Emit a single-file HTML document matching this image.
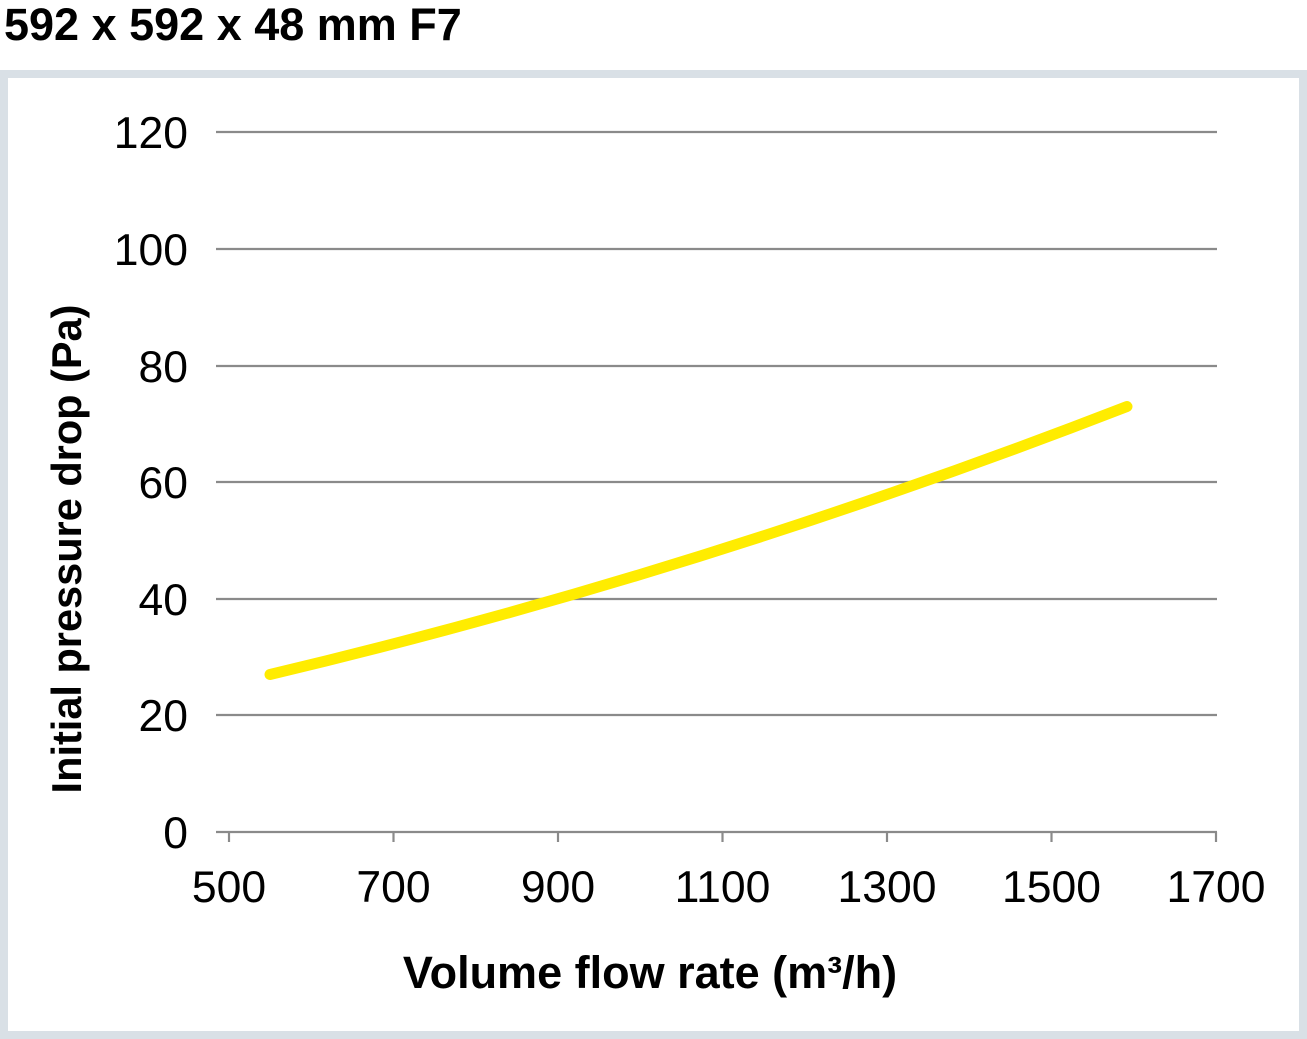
<!DOCTYPE html>
<html><head><style>
body{margin:0;background:#fff;width:1307px;height:1039px;overflow:hidden}
svg{display:block;font-family:"Liberation Sans",Arial,sans-serif}
</style></head><body>
<svg width="1307" height="1039" viewBox="0 0 1307 1039">
<text x="4" y="40" font-size="45" font-weight="bold" fill="#000">592 x 592 x 48 mm F7</text>
<rect x="4" y="74" width="1299" height="961" fill="#fff" stroke="#d9e0e6" stroke-width="8"/>
<g stroke="#8a8a8a" stroke-width="2.2">
<line x1="216" y1="132" x2="1217" y2="132"/>
<line x1="216" y1="249" x2="1217" y2="249"/>
<line x1="216" y1="366" x2="1217" y2="366"/>
<line x1="216" y1="482" x2="1217" y2="482"/>
<line x1="216" y1="599" x2="1217" y2="599"/>
<line x1="216" y1="715" x2="1217" y2="715"/>
<line x1="216" y1="832" x2="1217" y2="832"/>
<line x1="229" y1="832" x2="229" y2="842"/>
<line x1="393.5" y1="832" x2="393.5" y2="842"/>
<line x1="558" y1="832" x2="558" y2="842"/>
<line x1="722.5" y1="832" x2="722.5" y2="842"/>
<line x1="887" y1="832" x2="887" y2="842"/>
<line x1="1051.5" y1="832" x2="1051.5" y2="842"/>
<line x1="1216" y1="832" x2="1216" y2="842"/>
</g>
<g font-size="44.5" fill="#000" text-anchor="end">
<text x="188" y="148">120</text>
<text x="188" y="265">100</text>
<text x="188" y="382">80</text>
<text x="188" y="498">60</text>
<text x="188" y="615">40</text>
<text x="188" y="731">20</text>
<text x="188" y="848">0</text>
</g>
<g font-size="44.5" fill="#000" text-anchor="middle">
<text x="229" y="902">500</text>
<text x="393.5" y="902">700</text>
<text x="558" y="902">900</text>
<text x="722.5" y="902">1100</text>
<text x="887" y="902">1300</text>
<text x="1051.5" y="902">1500</text>
<text x="1216" y="902">1700</text>
</g>
<text x="650" y="988" font-size="45" font-weight="bold" text-anchor="middle">Volume flow rate (m³/h)</text>
<text transform="translate(81,549) rotate(-90)" font-size="41.5" font-weight="bold" text-anchor="middle">Initial pressure drop (Pa)</text>
<path d="M270 674.5 Q697.8 572.9 1127 406.5" fill="none" stroke="#ffec00" stroke-width="11" stroke-linecap="round"/>
</svg>
</body></html>
